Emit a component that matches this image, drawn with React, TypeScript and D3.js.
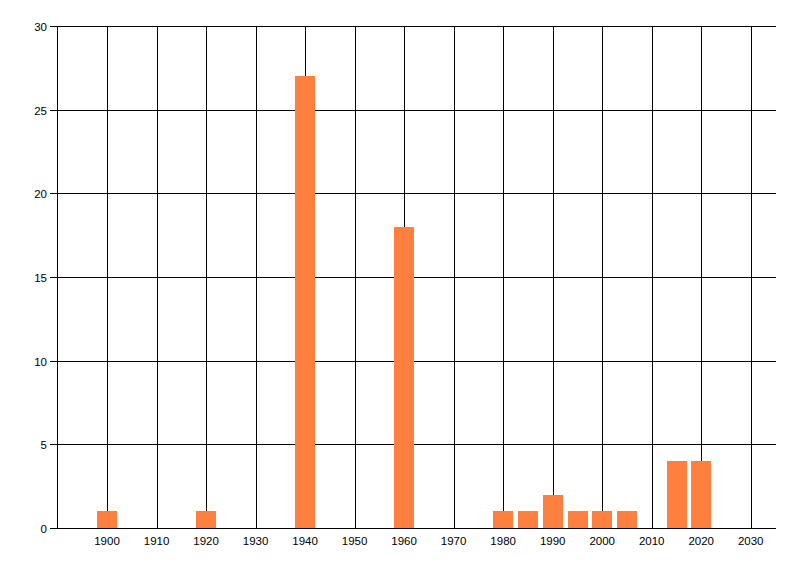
import React from "react";
import * as d3 from "d3";

const years = [1900, 1920, 1940, 1960, 1980, 1985, 1990, 1995, 2000, 2005, 2015, 2020];
const counts = [1, 1, 27, 18, 1, 1, 2, 1, 1, 1, 4, 4];
const xTicks = [1900, 1910, 1920, 1930, 1940, 1950, 1960, 1970, 1980, 1990, 2000, 2010, 2020, 2030];
const yTicks = [0, 5, 10, 15, 20, 25, 30];

const W = 800;
const H = 576;
const left = 57.5;
const right = 775.5;
const top = 26;
const bottom = 528;

export default function App() {
  const x = d3.scaleLinear().domain([1890, 2035]).range([left, right]);
  const y = d3.scaleLinear().domain([0, 30]).range([bottom, top]);
  const barW = x(1904) - x(1900);
  const font = "'Liberation Sans', Arial, sans-serif";
  return (
    <svg width={W} height={H} style={{ position: "absolute", left: 0, top: 0, background: "#fff" }}>
      <rect x={0} y={0} width={W} height={H} fill="#fff" />
      {xTicks.map((t) => (
        <line key={"vx" + t} x1={Math.round(x(t)) + 0.5} x2={Math.round(x(t)) + 0.5} y1={top} y2={bottom} stroke="#000" strokeWidth={1} shapeRendering="crispEdges" />
      ))}
      {yTicks.map((t) => (
        <line key={"hy" + t} x1={left - 8} x2={right} y1={Math.round(y(t)) + 0.5} y2={Math.round(y(t)) + 0.5} stroke="#000" strokeWidth={1} shapeRendering="crispEdges" />
      ))}
      <line x1={left} x2={left} y1={top} y2={bottom + 1} stroke="#000" strokeWidth={1} shapeRendering="crispEdges" />
      {years.map((yr, i) => (
        <rect
          key={"b" + yr}
          x={Math.round(x(yr) - barW / 2)}
          y={Math.round(y(counts[i]))}
          width={Math.round(barW)}
          height={Math.round(y(0)) - Math.round(y(counts[i]))}
          fill="#FF7F3F"
          shapeRendering="crispEdges"
        />
      ))}
      {yTicks.map((t) => (
        <text key={"yl" + t} x={47} y={Math.round(y(t)) + 4.5} textAnchor="end" fontSize={11.5} fontFamily={font} fill="#000">
          {t}
        </text>
      ))}
      {xTicks.map((t) => (
        <text key={"xl" + t} x={x(t)} y={545} textAnchor="middle" fontSize={11.5} fontFamily={font} fill="#000">
          {t}
        </text>
      ))}
    </svg>
  );
}
